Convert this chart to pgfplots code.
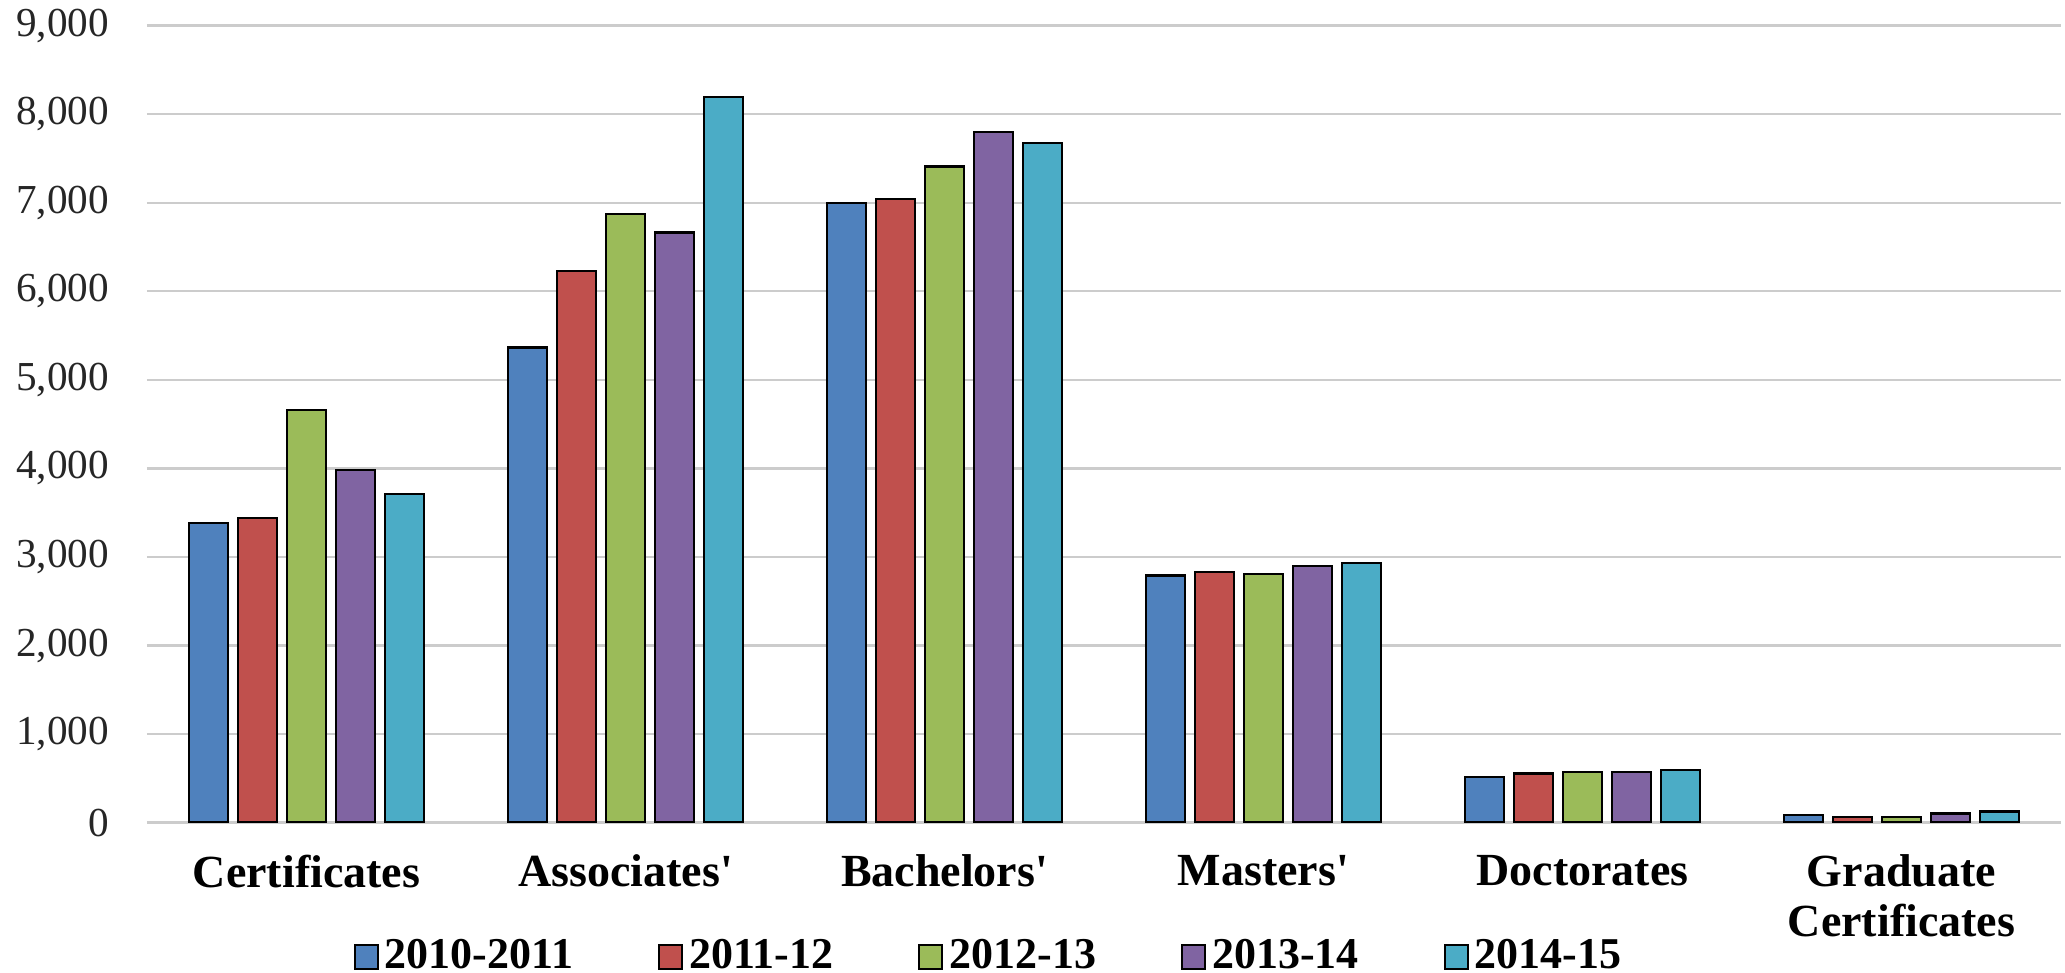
\documentclass[border=0pt]{standalone}
\usepackage{pgfplots}
\pgfplotsset{compat=1.18}
\usepackage{fontspec}
\setmainfont{Liberation Serif}
\definecolor{cA}{HTML}{4F81BD}
\definecolor{cB}{HTML}{C0504D}
\definecolor{cC}{HTML}{9BBB59}
\definecolor{cD}{HTML}{8064A2}
\definecolor{cE}{HTML}{4BACC6}
\begin{document}
\begin{tikzpicture}
\begin{axis}[
  at={(36.75pt,37.6pt)}, anchor=south west,
  scale only axis, width=478.5pt, height=199.25pt,
  xmin=-0.5, xmax=5.5, ymin=0, ymax=9000,
  ybar=0pt, bar width=9.75pt,
  axis line style={draw=none},
  major tick style={draw=none},
  ymajorgrids, grid style={gray!40, line width=0.6pt},
  ytick={0,1000,...,9000},
  /pgf/number format/assume math mode=true,
  /pgf/number format/1000 sep={,},
  yticklabel style={font=\fontsize{10.3}{12}\selectfont, text=black!85, xshift=-6pt},
  xtick={0,1,2,3,4,5},
  xticklabels={Certificates, Associates\textquotesingle, Bachelors\textquotesingle, Masters\textquotesingle, Doctorates, Graduate\\Certificates},
  xticklabel style={font=\fontsize{11.5}{12.5}\selectfont\bfseries, align=center, anchor=north, yshift=-0.3pt},
  legend columns=5,
  legend style={draw=none, fill=none, inner sep=0pt, at={(rel axis cs:0.1076,-0.1685)}, anchor=west,
    font=\fontsize{11}{13}\selectfont\bfseries,
    nodes={inner sep=1.5pt},
    /tikz/every even column/.append style={column sep=19.7pt},
    /tikz/column 2/.append style={column sep=11.2pt}},
  legend image code/.code={\draw[#1, line width=0.5pt] (0pt,-3pt) rectangle (5.8pt,3pt);},
]
\addplot[fill=cA, draw=black, line width=0.6pt, bar shift=-24.5pt] coordinates {(0,3381) (1,5364) (2,6995) (3,2790) (4,513) (5,83)};
\addplot[fill=cB, draw=black, line width=0.6pt, bar shift=-12.25pt] coordinates {(0,3437) (1,6230) (2,7040) (3,2827) (4,553) (5,61)};
\addplot[fill=cC, draw=black, line width=0.6pt, bar shift=0pt] coordinates {(0,4660) (1,6870) (2,7408) (3,2808) (4,572) (5,61)};
\addplot[fill=cD, draw=black, line width=0.6pt, bar shift=12.25pt] coordinates {(0,3983) (1,6662) (2,7800) (3,2895) (4,572) (5,102)};
\addplot[fill=cE, draw=black, line width=0.6pt, bar shift=24.5pt] coordinates {(0,3708) (1,8191) (2,7675) (3,2932) (4,595) (5,124)};
\legend{2010-2011, 2011-12, 2012-13, 2013-14, 2014-15}
\end{axis}
\pgfresetboundingbox
\useasboundingbox (0,0) rectangle (516.25pt,243.25pt);
\end{tikzpicture}
\end{document}
